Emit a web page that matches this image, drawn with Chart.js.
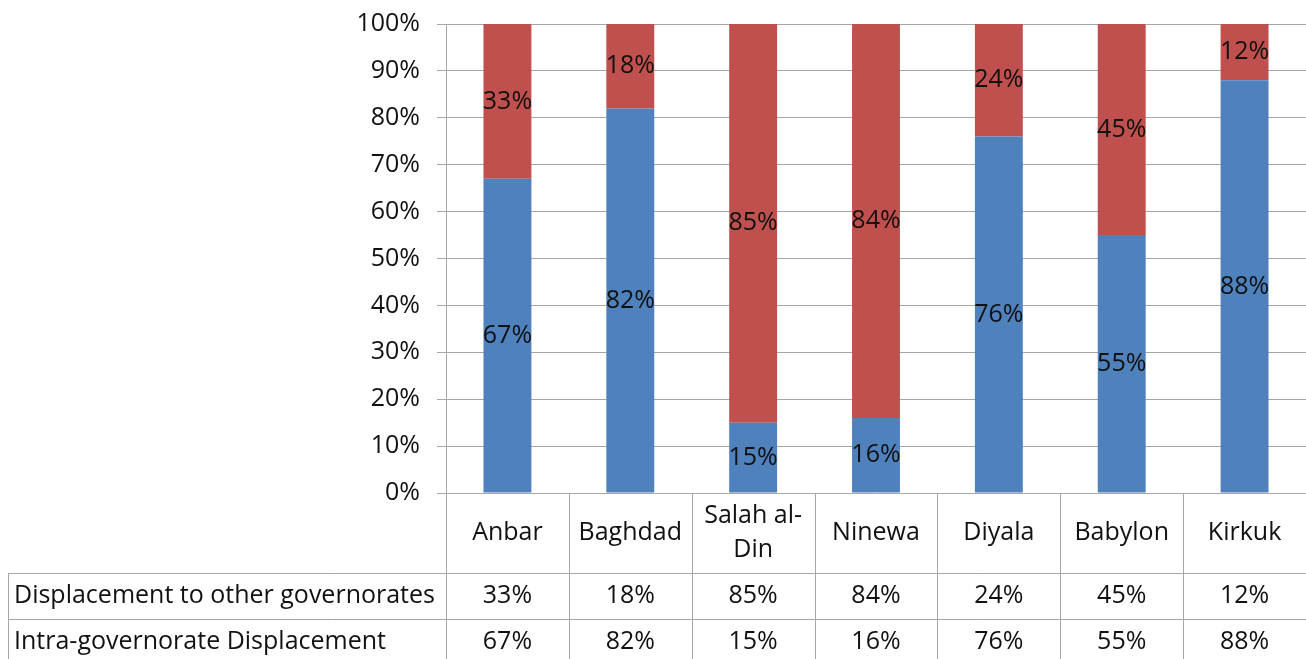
<!DOCTYPE html>
<html>
<head>
<meta charset="utf-8">
<script src="https://cdn.jsdelivr.net/npm/chart.js@4.4.1/dist/chart.umd.min.js"></script>
<style>
  html, body { margin: 0; padding: 0; background: #fff; }
  #wrap { width: 1306px; height: 659px; }
</style>
</head>
<body>
<div id="wrap"><canvas id="displacementChart" width="1306" height="659"></canvas></div>
<script>
// governorates (Salah al-Din wraps on two lines in the table header)
var categories = ['Anbar', 'Baghdad', ['Salah al-', 'Din'], 'Ninewa', 'Diyala', 'Babylon', 'Kirkuk'];
var intraValues = [67, 82, 15, 16, 76, 55, 88];
var otherValues = [33, 18, 85, 84, 24, 45, 12];
var seriesNames = ['Intra-governorate Displacement', 'Displacement to other governorates'];
var yTicks = [0, 10, 20, 30, 40, 50, 60, 70, 80, 90, 100];

var FONT = '"Open Sans", sans-serif';
var FSIZE = 25;
var gridColor = '#a6a6a6';

// labels in the middle of every bar segment
var segmentLabels = {
  id: 'segmentLabels',
  afterDatasetsDraw(chart) {
    var ctx = chart.ctx;
    ctx.save();
    ctx.font = FSIZE + 'px ' + FONT;
    ctx.fillStyle = '#111';
    ctx.textAlign = 'center';
    ctx.textBaseline = 'middle';
    chart.data.datasets.forEach(function (ds, di) {
      chart.getDatasetMeta(di).data.forEach(function (bar, i) {
        var mid = (bar.y + bar.base) / 2;
        ctx.fillText(ds.data[i] + '%', bar.x, mid);
      });
    });
    ctx.restore();
  }
};

// data table under the x axis
var dataTable = {
  id: 'dataTable',
  afterDraw(chart) {
    var ctx = chart.ctx;
    var xs = chart.scales.x;
    var top = chart.chartArea.bottom;
    var n = categories.length;
    var colW = xs.width / n;
    var headerH = 80, rowH = 46;
    var bottom = chart.height;
    var tableLeft = 8;
    ctx.save();
    ctx.strokeStyle = gridColor;
    ctx.lineWidth = 1;
    // vertical lines
    for (var i = 0; i < n; i++) {
      var lx = Math.round(xs.left + i * colW) + 0.5;
      ctx.beginPath(); ctx.moveTo(lx, top); ctx.lineTo(lx, bottom); ctx.stroke();
    }
    ctx.beginPath(); ctx.moveTo(tableLeft + 0.5, top + headerH); ctx.lineTo(tableLeft + 0.5, bottom); ctx.stroke();
    // horizontal lines
    [top + headerH, top + headerH + rowH].forEach(function (ly) {
      ctx.beginPath(); ctx.moveTo(tableLeft, Math.round(ly) + 0.5); ctx.lineTo(xs.right, Math.round(ly) + 0.5); ctx.stroke();
    });

    ctx.font = FSIZE + 'px ' + FONT;
    ctx.fillStyle = '#111';
    ctx.textBaseline = 'middle';
    ctx.textAlign = 'center';
    categories.forEach(function (c, i) {
      var cx = xs.getPixelForValue(i);
      var lines = Array.isArray(c) ? c : [c];
      var lh = 34;
      var y0 = top + headerH / 2 - (lines.length - 1) * lh / 2;
      lines.forEach(function (t, k) { ctx.fillText(t, cx, y0 + k * lh); });
    });
    var rows = [
      { name: seriesNames[1], vals: otherValues },
      { name: seriesNames[0], vals: intraValues }
    ];
    rows.forEach(function (r, ri) {
      var ry = top + headerH + ri * rowH + rowH / 2;
      ctx.textAlign = 'left';
      ctx.fillText(r.name, tableLeft + 6, ry);
      ctx.textAlign = 'center';
      r.vals.forEach(function (v, i) {
        ctx.fillText(v + '%', xs.getPixelForValue(i), ry);
      });
    });
    ctx.restore();
  }
};

new Chart(document.getElementById('displacementChart'), {
  type: 'bar',
  data: {
    labels: categories,
    datasets: [
      { label: seriesNames[0], data: intraValues, backgroundColor: '#4f81bd', barPercentage: 0.39, categoryPercentage: 1 },
      { label: seriesNames[1], data: otherValues, backgroundColor: '#c0504d', barPercentage: 0.39, categoryPercentage: 1 }
    ]
  },
  options: {
    responsive: false,
    animation: false,
    layout: { padding: { top: 24, right: 0, left: 0, bottom: 0 } },
    plugins: { legend: { display: false }, tooltip: { enabled: false } },
    scales: {
      x: {
        stacked: true,
        grid: { display: false },
        border: { display: false },
        ticks: { display: false },
        afterFit: function (s) { s.height = 166; }
      },
      y: {
        stacked: true,
        min: 0, max: 100,
        afterBuildTicks: function (s) { s.ticks = yTicks.map(function (v) { return { value: v }; }); },
        grid: { color: gridColor, tickLength: 9 },
        border: { display: true, color: gridColor },
        ticks: {
          padding: 17,
          color: '#111',
          font: { size: FSIZE, family: FONT, lineHeight: 0.5 },
          callback: function (v) { return v + '%'; }
        },
        afterFit: function (s) { s.width = 446; }
      }
    }
  },
  plugins: [segmentLabels, dataTable]
});
</script>
</body>
</html>
